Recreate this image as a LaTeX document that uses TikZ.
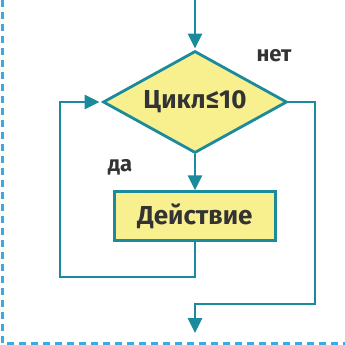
\documentclass[tikz,border=0pt]{standalone}
\usepackage{fontspec}
\setmainfont{Fira Sans}
\usetikzlibrary{shapes.geometric, arrows.meta, positioning}
\definecolor{flowteal}{HTML}{1A8A9C}
\definecolor{flowyellow}{HTML}{F8EF8E}
\definecolor{framecyan}{HTML}{3AAAE0}
\definecolor{inkgray}{HTML}{333333}

\begin{document}
\begin{tikzpicture}[x=1pt, y=-1pt,
  flow/.style={line width=2.8pt, flowteal},
  flowtip/.style={-{Triangle[length=15pt, width=14pt]}},
  decision/.style={diamond, shape aspect=1.8, draw=flowteal, line width=2.8pt,
    fill=flowyellow, minimum width=184pt, minimum height=102pt, inner sep=0pt,
    font=\fontsize{26}{28}\selectfont\bfseries, text=inkgray},
  action/.style={rectangle, draw=flowteal, line width=2.8pt, fill=flowyellow,
    minimum width=161pt, minimum height=49pt, inner sep=0pt,
    font=\fontsize{26}{28}\selectfont\bfseries, text=inkgray},
  lbl/.style={font=\fontsize{22}{24}\selectfont\bfseries, text=inkgray}]
  \useasboundingbox (0,0) rectangle (345,345);
  % frame
  \draw[line width=3pt, framecyan, dash pattern=on 7pt off 5pt]
    (2,0) -- (2,343) -- (345,343);
  % blocks
  \node[decision] (cycle) at (195,102) {Цикл≤10};
  \node[action, below=36pt of cycle] (act) {Действие};
  \node[lbl] (yes) at (120,167) {да};
  \node[lbl] (no) at (274,56) {нет};
  \coordinate (entry) at (195,0);
  \coordinate (loopL) at (60,277);
  \coordinate (exitR) at (315,304);
  \coordinate (out) at (195,333);
  % connectors
  \draw[flow, flowtip, shorten >=1pt] (entry) -- (cycle.north);
  \draw[flow, flowtip] (cycle.south) -- (act.north);
  \draw[flow, flowtip, shorten >=2pt] (act.south) |- (loopL) |- (cycle.west);
  \draw[flow, flowtip] (cycle.east) -| (exitR) -| (out);
\end{tikzpicture}
\end{document}
